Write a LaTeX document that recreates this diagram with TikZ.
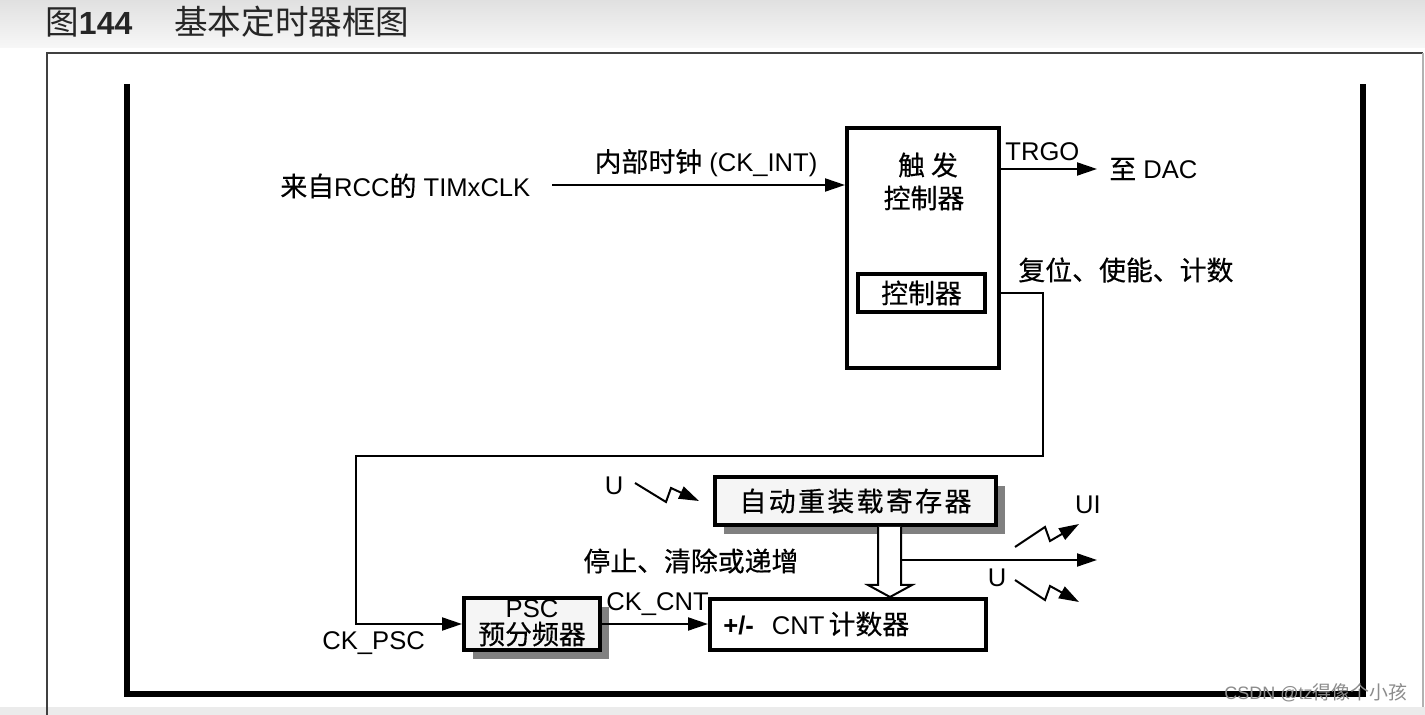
\documentclass[tikz,border=0pt]{standalone}
\usepackage{fontspec}
\setmainfont{Liberation Sans}
\newfontfamily\cjk[Scale=1.05,FakeBold=0.4]{Noto Sans CJK SC}
\newfontfamily\cjkw[Scale=1.05,LetterSpace=9,FakeBold=0.4]{Noto Sans CJK SC}
\newfontfamily\cjkthin[Scale=1.05]{Noto Sans CJK SC}
\usetikzlibrary{arrows.meta,shadows,calc}
\tikzset{
  box/.style={draw, line width=2pt, inner sep=0pt},
  sbox/.style={box, fill=black!4, drop shadow={shadow xshift=4.5pt,shadow yshift=-4.5pt,fill=black!50,opacity=1}},
  wire/.style={line width=1pt},
  arr/.style={wire, -{Triangle[length=10pt,width=6.5pt]}},
  lbl/.style={inner sep=0pt},
}
\begin{document}
\begin{tikzpicture}[x=0.5pt,y=-0.5pt,font=\fontsize{12.8}{15}\selectfont]
\useasboundingbox (0,0) rectangle (1425,715);
% background bands
\shade[top color=black!12, bottom color=black!3] (0,0) rectangle (1425,48);
\fill[black!8] (0,707) rectangle (1425,715);
\fill[white] (47,53) rectangle (1423,707);
% title
\node[lbl, anchor=west, text=black!85] (title) at (45,22) {\fontsize{16}{18}\selectfont{\cjkthin 图}\textbf{144}\hspace{21pt}{\cjkthin 基本定时器框图}};
% outer frame
\draw[line width=1.2pt, black!75] (47,715) -- (47,53) -- (1423,53);
\draw[line width=1pt, black!30] (1423,53) -- (1423,707);
% inner thick frame
\draw[line width=2.6pt] (127,84) -- (127,694) -- (1363,694) -- (1363,84);

% trigger controller
\node[box] (trig) at (923,248) [minimum width=76pt, minimum height=120pt] {};
\node[lbl] (trigA) at (928,165) {\cjk 触\hspace{3pt}发};
\node[lbl] (trigB) at (924,198) {\cjk 控制器};
\node[box, line width=1.6pt, minimum width=63.5pt, minimum height=19pt] (inner) at (921.5,293) {\cjk 控制器};

% clock input
\node[lbl, anchor=west] (clk) at (280,186) {{\cjk 来自}RCC{\cjk 的} TIMxCLK};
\coordinate (clkstart) at (552,185);
\draw[arr] (clkstart) -- (clkstart -| trig.west);
\node[lbl] (ckint) at (706,163) {{\cjk 内部时钟} (CK\_INT)};

% TRGO
\node[lbl, anchor=west] (trgo) at (1005,152) {TRGO};
\node[lbl, anchor=west] (dac) at (1109,169) {{\cjk 至} DAC};
\coordinate (dacend) at (1097,169);
\draw[arr] (dacend -| trig.east) -- (dacend);

\node[lbl, anchor=west] (rst) at (1018,270) {\cjk 复位、使能、计数};

% feedback line to PSC
\coordinate (r1) at (1043,456);
\coordinate (l1) at (356,456);

% PSC
\node[sbox, minimum width=68pt, minimum height=26pt] (psc) at (532,624) {};
\node[lbl] (pscA) at (532,609) {PSC};
\node[lbl] (pscB) at (532,634) {\cjk 预分频器};
\draw[arr] (trig.east |- inner.east) -- (r1 |- inner.east) -- (r1) -- (l1) |- (psc.west);
\node[lbl, anchor=west] (ckpsc) at (322,643) {CK\_PSC};

% CNT
\node[box, fill=white, minimum width=138pt, minimum height=25.5pt] (cnt) at (848,624.5) {};
\node[lbl, anchor=west] (cntt) at (723,624) {\textbf{+/-}\hspace{9pt}CNT\hspace{2pt}{\cjk 计数器}};
\draw[arr] (psc.east) -- (psc.east -| cnt.west);
\node[lbl, anchor=west] (ckcnt) at (606,604) {CK\_CNT};

% ARR
\node[sbox, minimum width=140.5pt, minimum height=24pt] (arr) at (855.5,501) {\cjkw 自动重装载寄存器};

% hollow arrow ARR -> CNT
\coordinate (h1) at (878,585);
\coordinate (h2) at (901,585);
\coordinate (ht) at (890,0);
\draw[wire, fill=white, line join=miter] (h1 |- arr.south) -- (h1) -- ++(-10,0) -- (ht |- cnt.north) -- ($(h2)+(11,0)$) -- (h2) -- (h2 |- arr.south);
% output line
\coordinate (o1) at (901,560);
\coordinate (o2) at (1097,560);
\draw[arr] (o1) -- (o2);

\node[lbl, anchor=west] (stop) at (583,561) {\cjk 停止、清除或递增};

% U / UI event arrows
\node[lbl] (uA) at (614,486) {U};
\coordinate (ua0) at (635,483);
\coordinate (ua1) at (666,502);
\coordinate (ua2) at (671,488);
\coordinate (ua3) at (699,501);
\draw[arr, line join=miter] (ua0) -- (ua1) -- (ua2) -- (ua3);

\node[lbl] (ui) at (1088,505) {UI};
\coordinate (ui0) at (1015,547);
\coordinate (ui1) at (1045,527);
\coordinate (ui2) at (1050,541);
\coordinate (ui3) at (1079,524);
\draw[arr, line join=miter] (ui0) -- (ui1) -- (ui2) -- (ui3);

\node[lbl] (uB) at (997,578) {U};
\coordinate (ub0) at (1015,580);
\coordinate (ub1) at (1045,600);
\coordinate (ub2) at (1050,586);
\coordinate (ub3) at (1079,602);
\draw[arr, line join=miter] (ub0) -- (ub1) -- (ub2) -- (ub3);

% watermark
\node[lbl, anchor=west, text=black!45] (wm) at (1224,693) {\fontsize{9}{11}\selectfont CSDN @tz{\cjkthin 得像个小孩}};
\end{tikzpicture}
\end{document}
